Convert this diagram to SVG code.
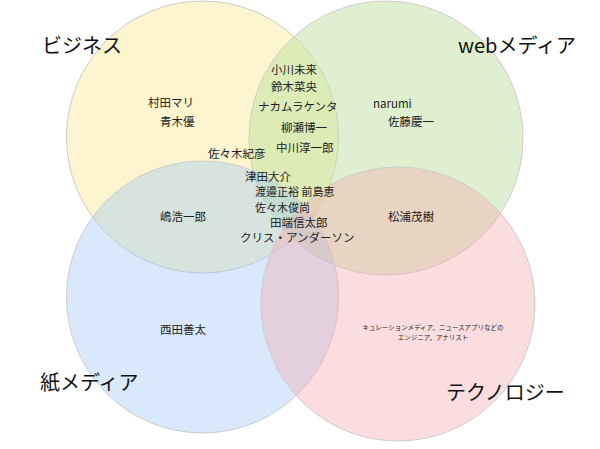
<svg xmlns="http://www.w3.org/2000/svg" width="600" height="449" viewBox="0 0 600 449">
<style>
text{font-family:"Noto Sans CJK JP","Liberation Sans",sans-serif;fill:#222}
.n{font-size:11.5px}
.h{font-size:20px;fill:#111}
.s{font-size:6.5px}
circle{stroke:#ccc;stroke-width:1}
</style>
<rect width="600" height="449" fill="#fff"/>
<g id="circles">
<circle id="c-biz" cx="202.5" cy="137" r="136" fill="rgb(250,235,160)" fill-opacity="0.5"/>
<circle id="c-web" cx="386" cy="138" r="137" fill="rgb(190,225,160)" fill-opacity="0.5"/>
<circle id="c-paper" cx="202.5" cy="297" r="136" fill="rgb(160,200,245)" fill-opacity="0.4"/>
<circle id="c-tech" cx="398" cy="304" r="137" fill="rgb(245,170,175)" fill-opacity="0.4"/>
</g>
<g id="labels">
<text class="h" x="42" y="53">ビジネス</text>
<text class="h" x="458" y="53">webメディア</text>
<text class="h" x="40" y="390">紙メディア</text>
<text class="h" x="446" y="400">テクノロジー</text>
</g>
<g id="names">
<text class="n" x="148" y="107">村田マリ</text>
<text class="n" x="160" y="126">青木優</text>
<text class="n" x="271" y="74">小川未来</text>
<text class="n" x="271" y="91">鈴木菜央</text>
<text class="n" x="258" y="111">ナカムラケンタ</text>
<text class="n" x="281" y="132">柳瀬博一</text>
<text class="n" x="276" y="152">中川淳一郎</text>
<text class="n" x="208" y="158">佐々木紀彦</text>
<text class="n" x="373" y="108">narumi</text>
<text class="n" x="388" y="126">佐藤慶一</text>
<text class="n" x="245" y="181">津田大介</text>
<text class="n" x="255" y="196" style="font-size:11px">渡邉正裕 前島恵</text>
<text class="n" x="255" y="212" style="font-size:11px">佐々木俊尚</text>
<text class="n" x="270" y="227">田端信太郎</text>
<text class="n" x="240" y="242">クリス・アンダーソン</text>
<text class="n" x="160" y="221">嶋浩一郎</text>
<text class="n" x="388" y="221">松浦茂樹</text>
<text class="n" x="160" y="334">西田善太</text>
<text class="s" x="433" y="330" text-anchor="middle">キュレーションメディア、ニュースアプリなどの</text>
<text class="s" x="433" y="340" text-anchor="middle">エンジニア、アナリスト</text>
</g>
</svg>
